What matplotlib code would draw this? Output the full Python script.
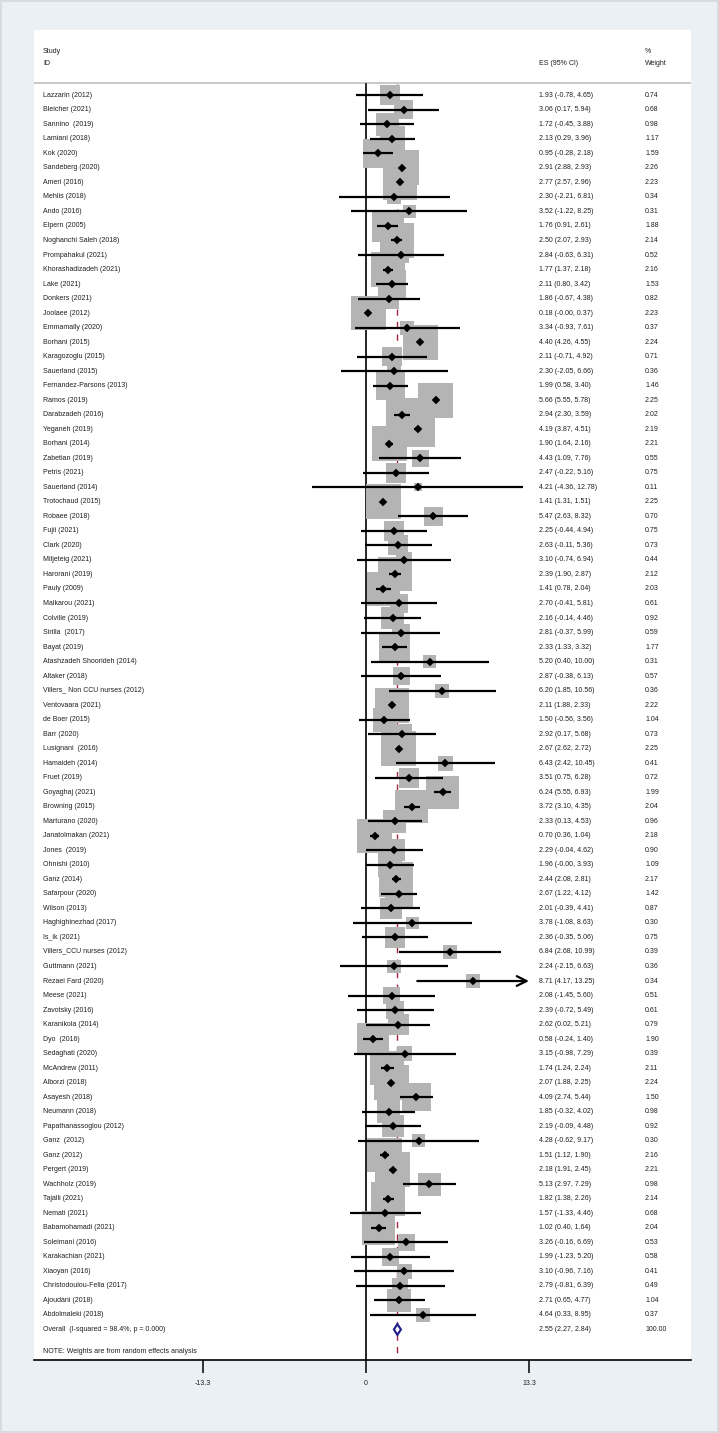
import matplotlib
matplotlib.use("Agg")
import matplotlib.pyplot as plt
from matplotlib.patches import Polygon

studies = [
    "Lazzarin (2012)", "Bleicher (2021)", "Sannino  (2019)", "Lamiani (2018)", "Kok (2020)",
    "Sandeberg (2020)", "Ameri (2016)", "Mehlis (2018)", "Ando (2016)", "Elpern (2005)",
    "Noghanchi Saleh (2018)", "Prompahakul (2021)", "Khorashadizadeh (2021)", "Lake (2021)", "Donkers (2021)",
    "Joolaee (2012)", "Emmamally (2020)", "Borhani (2015)", "Karagozoglu (2015)", "Sauerland (2015)",
    "Fernandez-Parsons (2013)", "Ramos (2019)", "Darabzadeh (2016)", "Yeganeh (2019)", "Borhani (2014)",
    "Zabetian (2019)", "Petris (2021)", "Sauerland (2014)", "Trotochaud (2015)", "Robaee (2018)",
    "Fujii (2021)", "Clark (2020)", "Miljeteig (2021)", "Harorani (2019)", "Pauly (2009)",
    "Malkarou (2021)", "Colville (2019)", "Sirilla  (2017)", "Bayat (2019)", "Atashzadeh Shoorideh (2014)",
    "Altaker (2018)", "Villers_ Non CCU nurses (2012)", "Ventovaara (2021)", "de Boer (2015)", "Barr (2020)",
    "Lusignani  (2016)", "Hamaideh (2014)", "Fruet (2019)", "Goyaghaj (2021)", "Browning (2015)",
    "Marturano (2020)", "Janatolmakan (2021)", "Jones  (2019)", "Ohnishi (2010)", "Ganz (2014)",
    "Safarpour (2020)", "Wilson (2013)", "Haghighinezhad (2017)", "Is_ik (2021)", "Villers_CCU nurses (2012)",
    "Guttmann (2021)", "Rezaei Fard (2020)", "Meese (2021)", "Zavotsky (2016)", "Karanikola (2014)",
    "Dyo  (2016)", "Sedaghati (2020)", "McAndrew (2011)", "Alborzi (2018)", "Asayesh (2018)",
    "Neumann (2018)", "Papathanassoglou (2012)", "Ganz  (2012)", "Ganz (2012)", "Pergert (2019)",
    "Wachholz (2019)", "Tajalli (2021)", "Nemati (2021)", "Babamohamadi (2021)", "Soleimani (2016)",
    "Karakachian (2021)", "Xiaoyan (2016)", "Christodoulou-Fella (2017)", "Ajoudani (2018)", "Abdolmaleki (2018)",
]
es = [1.93, 3.06, 1.72, 2.13, 0.95, 2.91, 2.77, 2.30, 3.52, 1.76,
      2.50, 2.84, 1.77, 2.11, 1.86, 0.18, 3.34, 4.40, 2.11, 2.30,
      1.99, 5.66, 2.94, 4.19, 1.90, 4.43, 2.47, 4.21, 1.41, 5.47,
      2.25, 2.63, 3.10, 2.39, 1.41, 2.70, 2.16, 2.81, 2.33, 5.20,
      2.87, 6.20, 2.11, 1.50, 2.92, 2.67, 6.43, 3.51, 6.24, 3.72,
      2.33, 0.70, 2.29, 1.96, 2.44, 2.67, 2.01, 3.78, 2.36, 6.84,
      2.24, 8.71, 2.08, 2.39, 2.62, 0.58, 3.15, 1.74, 2.07, 4.09,
      1.85, 2.19, 4.28, 1.51, 2.18, 5.13, 1.82, 1.57, 1.02, 3.26,
      1.99, 3.10, 2.79, 2.71, 4.64]
lo = [-0.78, 0.17, -0.45, 0.29, -0.28, 2.88, 2.57, -2.21, -1.22, 0.91,
      2.07, -0.63, 1.37, 0.80, -0.67, -0.0, -0.93, 4.26, -0.71, -2.05,
      0.58, 5.55, 2.30, 3.87, 1.64, 1.09, -0.22, -4.36, 1.31, 2.63,
      -0.44, -0.11, -0.74, 1.90, 0.78, -0.41, -0.14, -0.37, 1.33, 0.40,
      -0.38, 1.85, 1.88, -0.56, 0.17, 2.62, 2.42, 0.75, 5.55, 3.10,
      0.13, 0.36, -0.04, -0.0, 2.08, 1.22, -0.39, -1.08, -0.35, 2.68,
      -2.15, 4.17, -1.45, -0.72, 0.02, -0.24, -0.98, 1.24, 1.88, 2.74,
      -0.32, -0.09, -0.62, 1.12, 1.91, 2.97, 1.38, -1.33, 0.40, -0.16,
      -1.23, -0.96, -0.81, 0.65, 0.33]
hi = [4.65, 5.94, 3.88, 3.96, 2.18, 2.93, 2.96, 6.81, 8.25, 2.61,
      2.93, 6.31, 2.18, 3.42, 4.38, 0.37, 7.61, 4.55, 4.92, 6.66,
      3.40, 5.78, 3.59, 4.51, 2.16, 7.76, 5.16, 12.78, 1.51, 8.32,
      4.94, 5.36, 6.94, 2.87, 2.04, 5.81, 4.46, 5.99, 3.32, 10.00,
      6.13, 10.56, 2.33, 3.56, 5.68, 2.72, 10.45, 6.28, 6.93, 4.35,
      4.53, 1.04, 4.62, 3.93, 2.81, 4.12, 4.41, 8.63, 5.06, 10.99,
      6.63, 13.25, 5.60, 5.49, 5.21, 1.40, 7.29, 2.24, 2.25, 5.44,
      4.02, 4.48, 9.17, 1.90, 2.45, 7.29, 2.26, 4.46, 1.64, 6.69,
      5.20, 7.16, 6.39, 4.77, 8.95]
weight = [0.74, 0.68, 0.98, 1.17, 1.59, 2.26, 2.23, 0.34, 0.31, 1.88,
          2.14, 0.52, 2.16, 1.53, 0.82, 2.23, 0.37, 2.24, 0.71, 0.36,
          1.46, 2.25, 2.02, 2.19, 2.21, 0.55, 0.75, 0.11, 2.25, 0.70,
          0.75, 0.73, 0.44, 2.12, 2.03, 0.61, 0.92, 0.59, 1.77, 0.31,
          0.57, 0.36, 2.22, 1.04, 0.73, 2.25, 0.41, 0.72, 1.99, 2.04,
          0.96, 2.18, 0.90, 1.09, 2.17, 1.42, 0.87, 0.30, 0.75, 0.39,
          0.36, 0.34, 0.51, 0.61, 0.79, 1.90, 0.39, 2.11, 2.24, 1.50,
          0.98, 0.92, 0.30, 2.16, 2.21, 0.98, 2.14, 0.68, 2.04, 0.53,
          0.58, 0.41, 0.49, 1.04, 0.37]

overall_label = "Overall  (I-squared = 98.4%, p = 0.000)"
overall_es, overall_lo, overall_hi, overall_w = 2.55, 2.27, 2.84, 100.00
note_text = "NOTE: Weights are from random effects analysis"
xtick_values = [-13.25, 0, 13.25]
xtick_labels = ["-13.3", "0", "13.3"]

W, H = 719, 1433
fig = plt.figure(figsize=(W / 100, H / 100), dpi=100)
fig.patch.set_facecolor("#eaf0f3")
fig.patch.set_edgecolor("#d5dde1")
fig.patch.set_linewidth(1.5)

left_px, right_px, top_px, bottom_px = 34, 691, 30, 1360
ax = fig.add_axes([left_px / W, 1 - bottom_px / H,
                   (right_px - left_px) / W, (bottom_px - top_px) / H])
ax.set_facecolor("white")

x0_px, ppu = 366.0, 12.3
row0_px, row_h = 95.3, 14.52
ax.set_xlim((left_px - x0_px) / ppu, (right_px - x0_px) / ppu)
ax.set_ylim((bottom_px - row0_px) / row_h, (top_px - row0_px) / row_h)

FONT = "Liberation Sans"
FS = 5.0
TXT = "#1e1e1e"
name_x = (43 - x0_px) / ppu
es_x = (539 - x0_px) / ppu
w_x = (645 - x0_px) / ppu

# header
ax.text(name_x, -3.0, "Study", fontsize=FS, family=FONT, color=TXT, va="center")
ax.text(name_x, -2.2, "ID", fontsize=FS, family=FONT, color=TXT, va="center")
ax.text(es_x, -2.2, "ES (95% CI)", fontsize=FS, family=FONT, color=TXT, va="center")
ax.text(w_x, -3.0, "%", fontsize=FS, family=FONT, color=TXT, va="center")
ax.text(w_x, -2.2, "Weight", fontsize=FS, family=FONT, color=TXT, va="center")
ax.axhline(-0.83, color="#c4c4c4", lw=1.3, zorder=1)

n = len(studies)
bottom_row = (bottom_px - row0_px) / row_h
# reference lines
ax.plot([0, 0], [-0.76, bottom_row], color="black", lw=1.2, zorder=1)
ax.plot([overall_es, overall_es], [-0.76, bottom_row], color="#a3283f", lw=1.0,
        dashes=(4.5, 4.5), zorder=1)

rows = list(range(n))
# weight boxes (area proportional to weight)
ax.scatter(es, rows, s=[281.5 * w for w in weight], marker="s", color="#b4b4b4",
           linewidths=0, zorder=2)

xmax = xtick_values[-1]
for i in range(n):
    if hi[i] >= xmax:
        ax.annotate("", xy=(xmax, i), xytext=(lo[i], i),
                    arrowprops=dict(arrowstyle="->,head_length=0.7,head_width=0.35",
                                    color="black", lw=1.6, shrinkA=0, shrinkB=0),
                    zorder=3)
    else:
        ax.plot([lo[i], hi[i]], [i, i], color="black", lw=1.6,
                solid_capstyle="butt", zorder=3)
    ax.text(name_x, i, studies[i], fontsize=FS, family=FONT, color=TXT, va="center")
    ax.text(es_x, i, f"{es[i]:.2f} ({lo[i]:.2f}, {hi[i]:.2f})", fontsize=FS,
            family=FONT, color=TXT, va="center")
    ax.text(w_x, i, f"{weight[i]:.2f}", fontsize=FS, family=FONT, color=TXT, va="center")

ax.plot(es, rows, linestyle="none", marker="D", markersize=3.6, color="black",
        markeredgewidth=0.3, zorder=4)

# overall
orow = n
dh = 0.37
ax.add_patch(Polygon([(overall_lo, orow), (overall_es, orow - dh), (overall_hi, orow),
                      (overall_es, orow + dh)], closed=True, facecolor="white",
                     edgecolor="#1c1c8a", lw=1.5, zorder=4))
ax.text(name_x, orow, overall_label, fontsize=FS, family=FONT, color=TXT, va="center")
ax.text(es_x, orow, f"{overall_es:.2f} ({overall_lo:.2f}, {overall_hi:.2f})",
        fontsize=FS, family=FONT, color=TXT, va="center")
ax.text(w_x, orow, f"{overall_w:.2f}", fontsize=FS, family=FONT, color=TXT, va="center")
ax.text(name_x, n + 1.5, note_text, fontsize=FS, family=FONT, color=TXT, va="center")

# axis
for s in ["top", "left", "right"]:
    ax.spines[s].set_visible(False)
ax.spines["bottom"].set_color("black")
ax.spines["bottom"].set_linewidth(1.2)
ax.set_yticks([])
ax.set_xticks(xtick_values)
ax.set_xticklabels(xtick_labels, fontsize=FS, family=FONT, color=TXT)
ax.tick_params(axis="x", direction="out", length=9.5, width=1.1, pad=5, color="black")

fig.savefig("out.png", dpi=100, facecolor=fig.get_facecolor(), edgecolor=fig.get_edgecolor())
